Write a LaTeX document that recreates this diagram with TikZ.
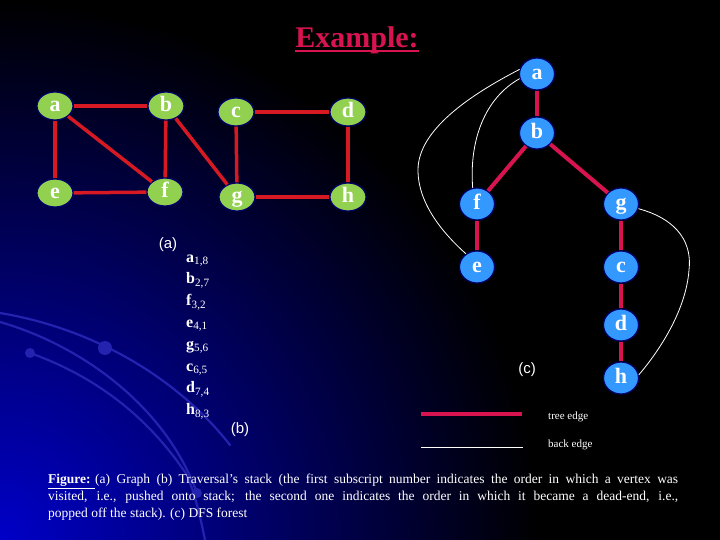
\documentclass[tikz,border=0pt]{standalone}
\usepackage{fontspec}
\setmainfont{Liberation Serif}
\newfontfamily\arialf{Liberation Sans}
\usetikzlibrary{shapes.geometric,calc}
\definecolor{gnode}{RGB}{146,208,80}
\definecolor{bnode}{RGB}{51,153,255}
\definecolor{navy}{RGB}{0,0,110}
\definecolor{gedge}{RGB}{215,25,35}
\definecolor{tedge}{RGB}{215,20,80}
\definecolor{glowblue}{RGB}{0,0,200}
\definecolor{arcblue}{RGB}{35,35,175}
\begin{document}
\begin{tikzpicture}[x=1pt,y=-1pt,
 gv/.style={ellipse, minimum width=36pt, minimum height=28pt, inner sep=0pt, fill=gnode, draw=navy, line width=1.2pt, text=white, text height=12pt, text depth=1pt, font=\fontsize{22}{22}\selectfont\bfseries},
 tv/.style={ellipse, minimum width=35pt, minimum height=32pt, inner sep=0pt, fill=bnode, draw=navy, line width=1.2pt, text=white, text height=12pt, text depth=1pt, font=\fontsize{22}{22}\selectfont\bfseries},
 gedgest/.style={gedge, line width=3.5pt},
 tedgest/.style={tedge, line width=4pt},
 backst/.style={white, line width=0.8pt},
 lbl/.style={text=white, inner sep=0pt, font=\arialf\fontsize{15}{15}\selectfont},
 stk/.style={anchor=base west, text=white, inner sep=0pt, font=\fontsize{16}{16}\selectfont},
 leg/.style={anchor=west, text=white, inner sep=0pt, font=\fontsize{11}{11}\selectfont},
 deco/.style={arcblue, line width=2.2pt, line cap=round},
 ]
\useasboundingbox (0,0) rectangle (720,540);
% background
\fill[black] (0,0) rectangle (720,540);
\begin{scope}
\clip (0,0) rectangle (720,540);
\shade[inner color=glowblue, outer color=black] (0,540) circle (540);
\draw[deco] (0,313) .. controls (90,328) and (175,375) .. (230,445);
\draw[deco] (0,322) .. controls (80,345) and (165,405) .. (197,493);
\draw[deco] (30,353) .. controls (100,378) and (150,420) .. (187,475) .. controls (195,495) and (200,515) .. (205,540);
\fill[arcblue] (105,348) circle (7);
\fill[arcblue] (30,353) circle (5);
\fill[arcblue] (197,493) circle (5);
\end{scope}

% title
\node[text=tedge, inner sep=0pt, anchor=base, font=\fontsize{30}{30}\selectfont\bfseries] (title) at (357,48) {Example:};
\draw[tedge, line width=2pt] ($(title.base west)+(0,3)$) -- ($(title.base east)+(0,3)$);

% (a) graph
\node[gv] (a) at (55,106) {a};
\node[gv] (b) at (166,106) {b};
\node[gv] (c) at (236,112) {c};
\node[gv] (d) at (348,112) {d};
\node[gv] (e) at (55,193) {e};
\node[gv] (f) at (165,192) {f};
\node[gv] (g) at (237,197) {g};
\node[gv] (h) at (348,197) {h};
\draw[gedgest] (a) -- (b);
\draw[gedgest] (a) -- (e);
\draw[gedgest] (a) -- (f);
\draw[gedgest] (b) -- (f);
\draw[gedgest] (b) -- (g);
\draw[gedgest] (e) -- (f);
\draw[gedgest] (c) -- (d);
\draw[gedgest] (c) -- (g);
\draw[gedgest] (d) -- (h);
\draw[gedgest] (g) -- (h);
\node[lbl] (la) at (168,245) {(a)};

% (b) stack
\node[stk] (s1) at (186,262) {\textbf{a}\textsubscript{1,8}};
\node[stk] (s2) at (186,283.8) {\textbf{b}\textsubscript{2,7}};
\node[stk] (s3) at (186,305.6) {\textbf{f}\textsubscript{3,2}};
\node[stk] (s4) at (186,327.4) {\textbf{e}\textsubscript{4,1}};
\node[stk] (s5) at (186,349.2) {\textbf{g}\textsubscript{5,6}};
\node[stk] (s6) at (186,371) {\textbf{c}\textsubscript{6,5}};
\node[stk] (s7) at (186,392.8) {\textbf{d}\textsubscript{7,4}};
\node[stk] (s8) at (186,414.6) {\textbf{h}\textsubscript{8,3}};
\node[lbl] (lb) at (240,430) {(b)};

% (c) DFS forest
\node[tv] (ta) at (537,74) {a};
\node[tv] (tb) at (537,133) {b};
\node[tv] (tf) at (477,204) {f};
\node[tv] (tg) at (621,204) {g};
\node[tv] (te) at (477,267) {e};
\node[tv] (tc) at (621,267) {c};
\node[tv] (td) at (621,325) {d};
\node[tv] (th) at (621,378) {h};
\draw[tedgest] (ta) -- (tb);
\draw[tedgest] (tb) -- (tf);
\draw[tedgest] (tb) -- (tg);
\draw[tedgest] (tf) -- (te);
\draw[tedgest] (tg) -- (tc);
\draw[tedgest] (tc) -- (td);
\draw[tedgest] (td) -- (th);
\draw[backst] (ta.195) .. controls (485,98) and (469,140) .. (tf.105);
\draw[backst] (ta.165) .. controls (470,95) and (418,130) .. (418,170) .. controls (418,205) and (445,235) .. (te.130);
\draw[backst] (tg.-15) .. controls (680,220) and (692,245) .. (689,270) .. controls (686,310) and (660,350) .. (th.10);
\node[lbl] (lc) at (527,370) {(c)};

% legend
\coordinate (t1) at (421,414);
\coordinate (t2) at (522,414);
\coordinate (k1) at (421,447);
\coordinate (k2) at (523,447);
\draw[tedgest] (t1) -- (t2);
\draw[white, line width=1pt] (k1) -- (k2);
\node[leg] (tl) at (548,417) {tree edge};
\node[leg] (bl) at (548,445) {back edge};

% caption
\node[anchor=north west, inner sep=0pt, text width=630pt, align=justify, text=white, font=\fontsize{13.5}{17}\selectfont] (cap) at (48,474)
{\underline{\textbf{Figure:} }(a) Graph (b) Traversal's stack (the first subscript number indicates the order in which a vertex was\linebreak visited, i.e., pushed onto stack; the second one indicates the order in which it became a dead-end, i.e.,\linebreak popped off the stack). (c) DFS forest};
\end{tikzpicture}
\end{document}
